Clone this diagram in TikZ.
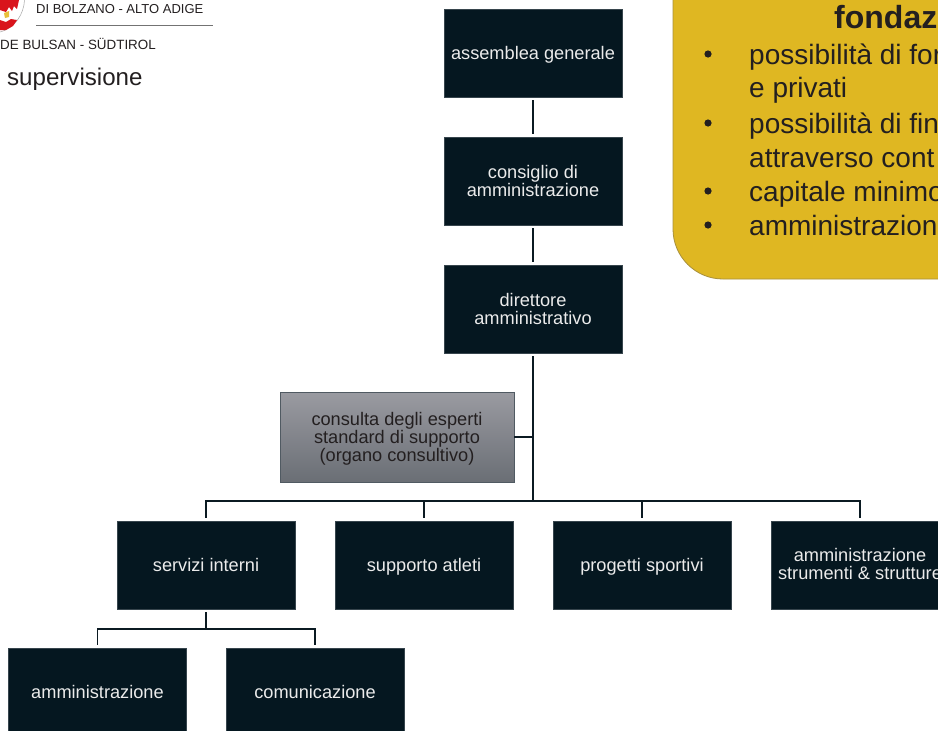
\documentclass[tikz,border=0pt]{standalone}
\usepackage{fontspec}
\setmainfont{Liberation Sans}
\usetikzlibrary{calc}
\definecolor{boxblue}{HTML}{051720}
\definecolor{linedark}{HTML}{0B1A22}
\definecolor{yellowbox}{HTML}{DFB722}
\definecolor{yellowedge}{HTML}{A8903C}
\definecolor{textdark}{HTML}{231F20}
\definecolor{greytop}{HTML}{9A9BA1}
\definecolor{greybottom}{HTML}{6A6E75}
\definecolor{greyedge}{HTML}{505A62}
\definecolor{logored}{HTML}{D9141C}
\definecolor{loggold}{HTML}{E8C13A}
\tikzset{
	orgbox/.style = {draw = boxblue!80!white, line width = 0.5pt, fill = boxblue, text = white!92!black, minimum width = 178pt, minimum height = 88pt, align = center, inner sep = 0pt, font = \fontsize{18.2}{18}\selectfont, execute at begin node = {\rule{0pt}{16pt}}, execute at end node = {\rule[-4pt]{0pt}{4pt}}},
	lowtext/.style = {execute at begin node = {\rule{0pt}{#1}}},
	greybox/.style = {orgbox, lowtext = 53pt, draw = greyedge, top color = greytop, bottom color = greybottom, text = textdark, minimum width = 234pt, minimum height = 90pt},
	orgline/.style = {draw = linedark, line width = 1.6pt, shorten >= 3pt, shorten <= 3pt},
	plainline/.style = {draw = linedark, line width = 1.6pt},
	bullettext/.style = {anchor = base west, inner sep = 0pt, text = textdark, font = \fontsize{28}{29}\selectfont}
}

\begin{document}
\begin{tikzpicture}[x = 1pt, y = -1pt]
	\def\xMAX{938};
	\def\yMAX{731};

	\useasboundingbox (0,0) rectangle (\xMAX,\yMAX);
	\clip (0,0) rectangle (\xMAX,\yMAX);

	% logo
	\begin{scope}
		\fill [white] (0,0) rectangle (\xMAX,\yMAX);
		\draw [black!35, line width = 0.5pt] (24.5,0) .. controls (24,14) and (15,28) .. (0,32);
		\fill [logored] (0,0) -- (19,0) -- (17,9) -- (14,6) -- (12,11) -- (9,7) -- (6,12) -- (0,10) -- cycle;
		\fill [loggold] (4,13) -- (9,11) -- (9,17) -- (5,18) -- cycle;
		\fill [logored] (0,20) -- (6,22) -- (11,19) -- (17,20) -- (13,26) -- (6,30) -- (0,30) -- cycle;
		\draw [black!55, line width = 0.5pt] (36,25) -- (213,25);
		\node (provincia) [anchor = base west, inner sep = 0pt, text = textdark, font = \fontsize{13}{14}\selectfont] at (36,13) {DI BOLZANO - ALTO ADIGE};
		\node (bulsan) [anchor = base west, inner sep = 0pt, text = textdark, font = \fontsize{13.4}{14}\selectfont] at (0,49) {DE BULSAN - SÜDTIROL};
		\node (supervisione) [anchor = base west, inner sep = 0pt, text = textdark, font = \fontsize{24.1}{26}\selectfont] at (7,85) {supervisione};
	\end{scope}

	% yellow box
	\begin{scope}
		\draw [yellowedge, fill = yellowbox, line width = 0.8pt, rounded corners = 50pt] (673,-60) rectangle (1100,279);
		\node (fondaz) [bullettext, font = \fontsize{32}{34}\selectfont\bfseries] at (834,28) {fondaz};
		\foreach \y/\bullettxt in {64/possibilità di for, 133/possibilità di fin, 201/capitale minimo, 235/amministrazion} {
			\fill [textdark] (708,\y-10) circle (3.6pt);
			\node [bullettext] at (749,\y) {\bullettxt};
		}
		\node [bullettext] at (749,97.5) {e privati};
		\node [bullettext] at (749,167) {attraverso cont};
	\end{scope}

	% boxes
	\node (assemblea) [orgbox] at (533,53) {assemblea generale};
	\node (consiglio) [orgbox, lowtext = 35pt] at (533,181) {consiglio di\\amministrazione};
	\node (direttore) [orgbox, lowtext = 35pt] at (533,309) {direttore\\amministrativo};
	\node (consulta) [greybox] at (397,437) {consulta degli esperti\\standard di supporto\\(organo consultivo)};
	\node (servizi) [orgbox] at (206,565) {servizi interni};
	\node (supporto) [orgbox] at (424,565) {supporto atleti};
	\node (progetti) [orgbox] at (642,565) {progetti sportivi};
	\node (strumenti) [orgbox, lowtext = 33pt] at (860,565) {amministrazione\\strumenti \& strutture};
	\node (ammin) [orgbox, lowtext = 19pt, minimum height = 84pt] at (97.5,690.5) {amministrazione};
	\node (comunic) [orgbox, lowtext = 19pt, minimum height = 84pt] at (315,690.5) {comunicazione};

	\coordinate (trunk) at (533,501);
	\coordinate (fork) at (206,629);

	% connectors
	\begin{scope}[orgline]
		\draw (assemblea) -- (consiglio);
		\draw (consiglio) -- (direttore);
		\draw [shorten >= 0pt] (direttore) -- (trunk);
		\draw [shorten >= 0pt] (servizi) -- (fork);
		\draw [shorten <= 0pt] (trunk) -| (servizi);
		\draw [shorten <= 0pt] (trunk) -| (supporto);
		\draw [shorten <= 0pt] (trunk) -| (progetti);
		\draw [shorten <= 0pt] (trunk) -| (strumenti);
		\draw [shorten <= 0pt] (fork) -| (ammin);
		\draw [shorten <= 0pt] (fork) -| (comunic);
	\end{scope}
	\draw [plainline] (consulta) -- (consulta -| trunk);
\end{tikzpicture}
\end{document}
